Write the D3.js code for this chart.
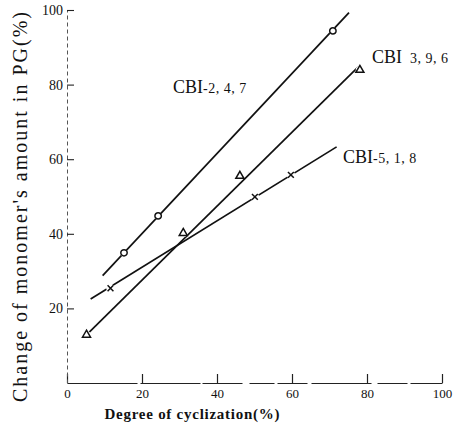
<!DOCTYPE html>
<html>
<head>
<meta charset="utf-8">
<script src="https://cdn.jsdelivr.net/npm/d3@7"></script>
<style>
  body { margin: 0; background: #fff; }
  text { font-family: "Liberation Serif", "DejaVu Serif", serif; fill: #111; }
</style>
</head>
<body>
<div id="chart"></div>
<script>
// tick values
var xTicks = [0, 20, 40, 60, 80, 100];
var yTicks = [20, 40, 60, 80, 100];

// CBI-2,4,7 (open circles)
var cbi247X = [15.2, 24.3, 70.9];
var cbi247Y = [34.9, 44.8, 94.4];
var cbi247Line = [[9.5, 28.8], [75.2, 99.3]];

// CBI-3,9,6 (triangles)
var cbi396X = [5.2, 31.0, 46.1, 78.1];
var cbi396Y = [12.9, 40.2, 55.5, 83.9];
var cbi396Line = [[5.2, 12.9], [77.6, 84.7]];

// CBI-5,1,8 (crosses)
var cbi518X = [11.6, 50.1, 59.7];
var cbi518Y = [25.4, 49.9, 55.8];
var cbi518Line = [[6.3, 22.5], [71.9, 63.3]];

var series = [
  { code: "CBI", tail: "-2, 4, 7", xs: cbi247X, ys: cbi247Y, line: cbi247Line, symbol: "circle", lx: 173, ly: 93 },
  { code: "CBI", tail: "  3, 9, 6", xs: cbi396X, ys: cbi396Y, line: cbi396Line, symbol: "triangle", lx: 372, ly: 63 },
  { code: "CBI", tail: "-5, 1, 8", xs: cbi518X, ys: cbi518Y, line: cbi518Line, symbol: "cross", lx: 343, ly: 163 }
];

function chart() {
  var w = 468;
  var h = 437;

  var svg = d3
    .select("#chart")
    .append("svg")
    .attr("width", w)
    .attr("height", h);

  svg.append("rect").attr("width", w).attr("height", h).attr("fill", "#fff");

  // scales
  var x = d3.scaleLinear().domain([0, 100]).range([67, 442]);
  var y = d3.scaleLinear().domain([0, 100]).range([383, 10]);

  // x axis, ticks pointing inward
  var xAxis = svg
    .append("g")
    .attr("transform", "translate(0," + y(0) + ")")
    .call(
      d3.axisBottom(x).tickValues(xTicks).tickSizeInner(-9).tickSizeOuter(0).tickPadding(6)
    );
  xAxis.select(".domain").attr("stroke", "#222").attr("stroke-width", 1.2)
    .attr("stroke-dasharray", "70,3,60,2,40,7,25,3,30,4,60,6,30,3,80");
  xAxis.selectAll(".tick line").attr("stroke", "#222").attr("stroke-width", 1.2);
  xAxis.selectAll(".tick text").style("font-size", "13px").attr("fill", "#111");

  // y axis, ticks pointing inward
  var yAxis = svg
    .append("g")
    .attr("transform", "translate(" + x(0) + ",0)")
    .call(
      d3.axisLeft(y).tickValues(yTicks).tickSizeInner(-7).tickSizeOuter(0).tickPadding(4)
    );
  yAxis.select(".domain").attr("stroke", "#555").attr("stroke-width", 1)
    .attr("stroke-dasharray", "4,3");
  yAxis.selectAll(".tick line").attr("stroke", "#222").attr("stroke-width", 1.1);
  yAxis.selectAll(".tick text").style("font-size", "14px").attr("fill", "#111");

  // axis titles
  svg
    .append("text")
    .attr("transform", "translate(27,207) rotate(-90)")
    .attr("text-anchor", "middle")
    .attr("textLength", 390)
    .attr("lengthAdjust", "spacing")
    .style("font-size", "20px")
    .text("Change of monomer's amount in PG(%)");

  svg
    .append("text")
    .attr("x", 192)
    .attr("y", 419)
    .attr("text-anchor", "middle")
    .attr("textLength", 175)
    .attr("lengthAdjust", "spacing")
    .style("font-size", "15px")
    .style("font-weight", "bold")
    .text("Degree of cyclization(%)");

  var g = svg.append("g");

  // fitted lines
  g.selectAll(".fit")
    .data(series)
    .enter()
    .append("line")
    .attr("class", "fit")
    .attr("x1", (d) => x(d.line[0][0]))
    .attr("y1", (d) => y(d.line[0][1]))
    .attr("x2", (d) => x(d.line[1][0]))
    .attr("y2", (d) => y(d.line[1][1]))
    .attr("stroke", "#111")
    .attr("stroke-width", 1.7);

  // markers
  var symbols = {
    circle: d3.symbol().type(d3.symbolCircle).size(32),
    triangle: d3.symbol().type(d3.symbolTriangle).size(28),
    cross: d3.symbol().type(d3.symbolX).size(24)
  };

  series.forEach(function (s) {
    var pts = s.xs.map((v, i) => [v, s.ys[i]]);
    var mg = g.append("g");
    // small white halo to break the line around each marker
    mg.selectAll(".halo")
      .data(pts)
      .enter()
      .append("circle")
      .attr("cx", (d) => x(d[0]))
      .attr("cy", (d) => y(d[1]))
      .attr("r", s.symbol === "circle" ? 3.6 : 4.2)
      .attr("fill", "#fff");
    mg.selectAll(".mark")
      .data(pts)
      .enter()
      .append("path")
      .attr("transform", (d) => "translate(" + x(d[0]) + "," + y(d[1]) + ")")
      .attr("d", symbols[s.symbol])
      .attr("fill", "#fff")
      .attr("stroke", "#111")
      .attr("stroke-width", 1.5);

    // series label: bigger "CBI", smaller numbers
    var t = svg
      .append("text")
      .attr("x", s.lx)
      .attr("y", s.ly)
      .attr("xml:space", "preserve");
    t.append("tspan").style("font-size", "18px").text(s.code);
    t.append("tspan").style("font-size", "14px").attr("letter-spacing", "0.5px").text(s.tail);
  });
}

chart();
</script>
</body>
</html>
